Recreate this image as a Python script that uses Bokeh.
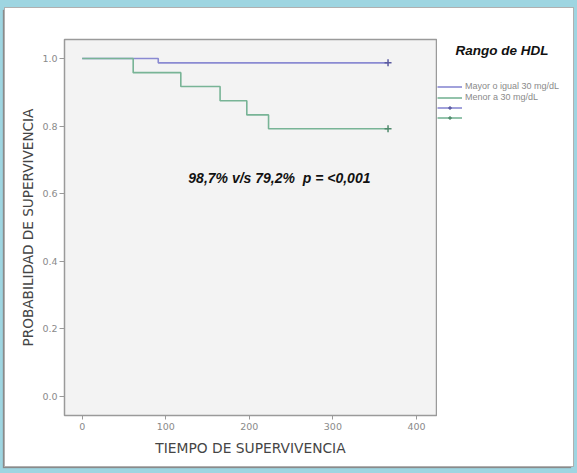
from bokeh.plotting import figure
from bokeh.layouts import row
from bokeh.models import Label, Legend, LegendItem, FixedTicker, Range1d
from bokeh.embed import file_html
from bokeh.resources import INLINE

# ---- data ----
group_names = ["Mayor o igual 30 mg/dL", "Menor a 30 mg/dL"]
time_high = [0, 91, 366]
surv_high = [1.0, 0.987, 0.987]
time_low = [0, 61, 118, 165, 197, 223, 366]
surv_low = [1.0, 0.958, 0.917, 0.875, 0.833, 0.792, 0.792]
censor_time_high = [366]
censor_surv_high = [0.987]
censor_time_low = [366]
censor_surv_low = [0.792]
x_ticks = [0, 100, 200, 300, 400]
y_ticks = [0.0, 0.2, 0.4, 0.6, 0.8, 1.0]
legend_title = "Rango de HDL"
annotation_text = "98,7% v/s 79,2%\u00a0 p = <0,001"
x_title = "TIEMPO DE SUPERVIVENCIA"
y_title = "PROBABILIDAD DE SUPERVIVENCIA"
NAN = float("nan")  # legend sample renderers carry no visible point

BLUE = "#8a8ad2"
GREEN = "#78b496"
BLUE_DARK = "#5a5aa0"
GREEN_DARK = "#4f8a6c"

# ---- main chart ----
p = figure(width=432, height=458, output_backend="svg", toolbar_location=None,
           x_range=Range1d(-21.2, 424), y_range=Range1d(-0.056, 1.056),
           min_border_left=59, min_border_right=1, min_border_top=31, min_border_bottom=51)
p.background_fill_color = "#f3f3f3"
p.border_fill_color = "white"
p.outline_line_color = "#9a9a9a"
p.outline_line_width = 1.5
p.xgrid.visible = False
p.ygrid.visible = False

p.step(time_high, surv_high, mode="after", line_color=BLUE, line_width=1.6)
p.step(time_low, surv_low, mode="after", line_color=GREEN, line_width=1.6)
p.scatter(censor_time_high, censor_surv_high, marker="cross", size=7,
          line_color=BLUE_DARK, line_width=1.5)
p.scatter(censor_time_low, censor_surv_low, marker="cross", size=7,
          line_color=GREEN_DARK, line_width=1.5)

for ax in (p.xaxis[0], p.yaxis[0]):
    ax.axis_line_color = "#9a9a9a"
    ax.major_tick_line_color = "#9a9a9a"
    ax.minor_tick_line_color = None
    ax.major_tick_in = 0
    ax.major_label_text_color = "#8a8a8a"
    ax.major_label_text_font = "DejaVu Sans"
    ax.major_label_text_font_size = "9.5px"
    ax.axis_label_text_font = "DejaVu Sans"
    ax.axis_label_text_font_style = "normal"
    ax.axis_label_text_color = "#454545"

p.xaxis.ticker = FixedTicker(ticks=x_ticks)
p.yaxis.ticker = FixedTicker(ticks=y_ticks)
p.xaxis.major_label_overrides = {t: str(t) for t in x_ticks}
p.yaxis.major_label_overrides = {t: f"{t:.1f}" for t in y_ticks}
p.xaxis.major_tick_out = 4
p.yaxis.major_tick_out = 5
p.xaxis.major_label_standoff = 3
p.yaxis.major_label_standoff = 2
p.xaxis.axis_label = x_title
p.yaxis.axis_label = y_title
p.xaxis.axis_label_text_font_size = "13.8px"
p.yaxis.axis_label_text_font_size = "13.6px"
p.xaxis.axis_label_standoff = 7
p.yaxis.axis_label_standoff = 3

p.add_layout(Label(x=127, y=0.645, text=annotation_text, text_font="Liberation Sans",
                   text_font_style="bold italic", text_font_size="14px",
                   text_baseline="middle", text_color="#111111"))

# ---- legend panel ----
lf = figure(width=136, height=458, output_backend="svg", toolbar_location=None,
            x_range=Range1d(0, 1), y_range=Range1d(0, 1),
            x_axis_location=None, y_axis_location=None,
            min_border=0, min_border_left=0, min_border_right=0,
            min_border_top=0, min_border_bottom=0)
lf.outline_line_color = None
lf.background_fill_color = "white"
lf.border_fill_color = "white"
lf.xgrid.visible = False
lf.ygrid.visible = False
for g in lf.grid:
    g.visible = False

l_high = lf.line([NAN], [NAN], line_color=BLUE, line_width=1.6)
l_low = lf.line([NAN], [NAN], line_color=GREEN, line_width=1.6)
m_high = lf.scatter([NAN], [NAN], marker="cross", size=7, line_color=BLUE_DARK, line_width=1.5)
m_low = lf.scatter([NAN], [NAN], marker="cross", size=7, line_color=GREEN_DARK, line_width=1.5)

lf.add_layout(Label(x=18, y=365, x_units="screen", y_units="screen", text=legend_title,
                    text_font="Liberation Sans", text_font_style="bold italic",
                    text_font_size="13.5px", text_baseline="middle", text_color="#111111"))

legend = Legend(items=[
    LegendItem(label=group_names[0], renderers=[l_high]),
    LegendItem(label=group_names[1], renderers=[l_low]),
    LegendItem(label=" ", renderers=[l_high, m_high]),
    LegendItem(label=" ", renderers=[l_low, m_low]),
], location=(0, 293))
legend.border_line_color = None
legend.background_fill_alpha = 0
legend.label_text_font = "Liberation Sans"
legend.label_text_font_size = "9px"
legend.label_text_color = "#8a8a8a"
legend.glyph_width = 25
legend.glyph_height = 9
legend.label_height = 9
legend.spacing = 1
legend.padding = 0
legend.margin = 0
legend.label_standoff = 3
lf.add_layout(legend)

layout = row(p, lf, spacing=0)
layout.styles = {"background-color": "white",
                 "box-shadow": "0 0 0 1px #b0b0b0, -2px 2px 1px #8a8a8a"}

html = file_html(layout, INLINE)
html = html.replace("</head>",
                    "<style>html,body{background:#9ed5e1;}body{padding:8px 0 0 5px;}</style></head>", 1)
open("out.html", "w").write(html)
